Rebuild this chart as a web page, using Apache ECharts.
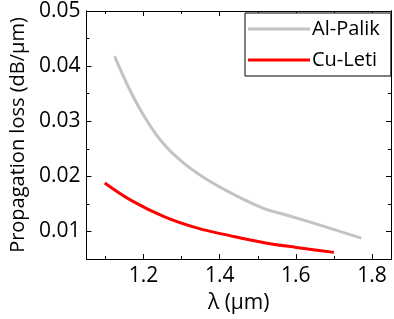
<!DOCTYPE html>
<html>
<head>
<meta charset="utf-8">
<script src="https://cdn.jsdelivr.net/npm/echarts@6/dist/echarts.min.js"></script>
<style>
  html, body { margin: 0; padding: 0; background: #fff; }
  #chart { width: 394px; height: 319px; }
</style>
</head>
<body>
<div id="chart"></div>
<script>
// values
var palikX = [1.124, 1.163, 1.206, 1.249, 1.300, 1.360, 1.429, 1.515, 1.584, 1.670, 1.772];
var palikY = [0.0418, 0.0358, 0.0304, 0.0262, 0.0227, 0.0197, 0.0170, 0.0142, 0.0128, 0.0110, 0.0088];
var letiX = [1.098, 1.171, 1.257, 1.342, 1.429, 1.514, 1.601, 1.700];
var letiY = [0.0188, 0.0155, 0.0126, 0.0106, 0.0092, 0.0080, 0.0071, 0.0062];

var xMajor = [1.2, 1.4, 1.6, 1.8];
var xMinor = [1.1, 1.3, 1.5, 1.7];
var yMajor = [0.01, 0.02, 0.03, 0.04, 0.05];
var yMinor = [0.015, 0.025, 0.035, 0.045];

var font = '"Open Sans", "Noto Sans", sans-serif';

function pairs(xs, ys) {
    return xs.map(function (x, i) { return [x, ys[i]]; });
}

function xAx(pos, ticks, len, labels) {
    return {
        type: 'value', position: pos, min: 1.05, max: 1.85,
        splitLine: { show: false },
        axisLine: { show: true, onZero: false, lineStyle: { color: '#000', width: 1 } },
        axisTick: { show: true, inside: true, length: len, customValues: ticks,
                    lineStyle: { color: '#000', width: 1 } },
        axisLabel: labels ? { show: true, customValues: xMajor, margin: 7, color: '#000',
                              fontSize: 21, fontFamily: font,
                              formatter: function (v) { return v.toFixed(1); } }
                          : { show: false }
    };
}

function yAx(pos, ticks, len, labels) {
    return {
        type: 'value', position: pos, min: 0.005, max: 0.05,
        splitLine: { show: false },
        axisLine: { show: true, onZero: false, lineStyle: { color: '#000', width: 1 } },
        axisTick: { show: true, inside: true, length: len, customValues: ticks,
                    lineStyle: { color: '#000', width: 1 } },
        axisLabel: labels ? { show: true, customValues: yMajor, margin: 6, color: '#000',
                              fontSize: 21, fontFamily: font,
                              formatter: function (v) { return v.toFixed(2); } }
                          : { show: false }
    };
}

var xMain = xAx('bottom', xMajor, 5, true);
xMain.name = 'λ (µm)';
xMain.nameLocation = 'middle';
xMain.nameGap = 34;
xMain.nameTextStyle = { color: '#000', fontSize: 21, fontFamily: font };

var yMain = yAx('left', yMajor, 5, true);
yMain.name = 'Propagation loss (dB/µm)';
yMain.nameLocation = 'middle';
yMain.nameGap = 57;
yMain.nameTextStyle = { color: '#000', fontSize: 20, fontFamily: font };

var option = {
    animation: false,
    backgroundColor: '#fff',
    grid: { left: 78, top: 11, right: 3, bottom: 57 },
    legend: {
        left: 245, top: 13,
        orient: 'vertical',
        data: ['Al-Palik', 'Cu-Leti'],
        icon: 'rect',
        itemWidth: 62, itemHeight: 3,
        itemGap: 11,
        padding: [6, 11, 6, 3],
        borderColor: '#000', borderWidth: 1,
        backgroundColor: '#fff',
        textStyle: { color: '#000', fontSize: 20, fontFamily: font, padding: [0, 0, 0, -3] }
    },
    xAxis: [
        xMain,
        xAx('bottom', xMinor, 3, false),
        xAx('top', xMajor, 5, false),
        xAx('top', xMinor, 3, false)
    ],
    yAxis: [
        yMain,
        yAx('left', yMinor, 3, false),
        yAx('right', yMajor, 5, false),
        yAx('right', yMinor, 3, false)
    ],
    series: [{
        name: 'Al-Palik',
        type: 'line',
        smooth: 0.4,
        showSymbol: false,
        color: '#c3c3c3',
        lineStyle: { width: 3, color: '#c3c3c3' },
        data: pairs(palikX, palikY)
    }, {
        name: 'Cu-Leti',
        type: 'line',
        smooth: 0.4,
        showSymbol: false,
        color: '#ff0000',
        lineStyle: { width: 3, color: '#ff0000' },
        data: pairs(letiX, letiY)
    }]
};

var myChart = echarts.init(document.getElementById('chart'));
myChart.setOption(option);
</script>
</body>
</html>
